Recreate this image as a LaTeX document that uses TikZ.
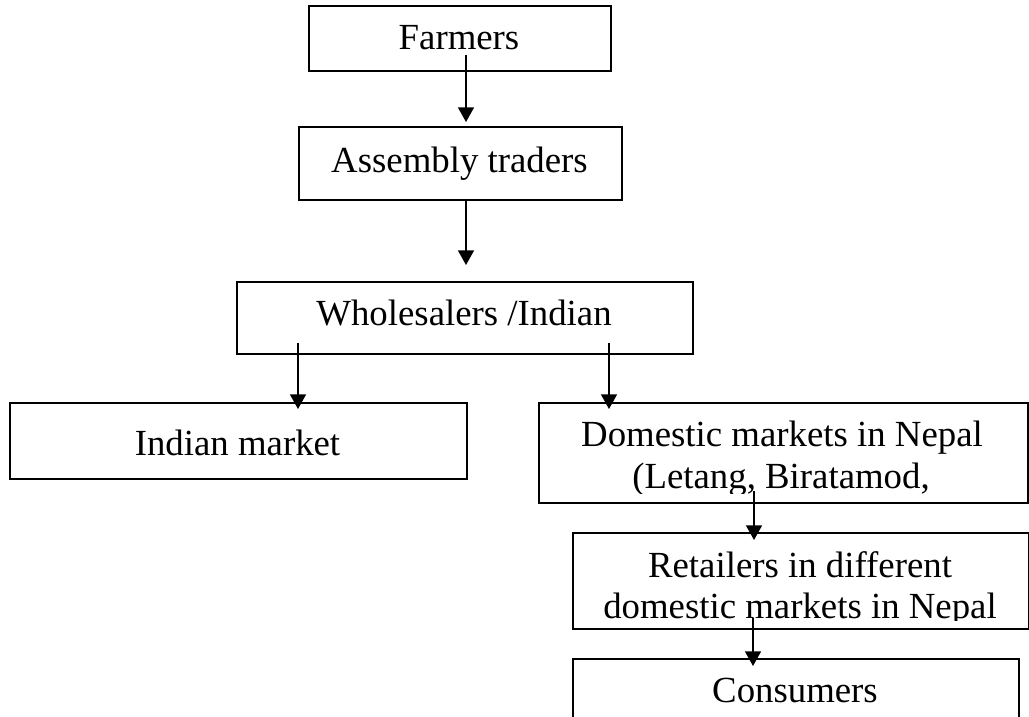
\documentclass[tikz,border=0pt]{standalone}
\usepackage{fontspec}
\setmainfont{Liberation Serif}
\usetikzlibrary{arrows.meta}
\tikzset{
  box/.style={draw=black, line width=1.4pt, rectangle, inner sep=0pt, anchor=north west, fill=none},
  txt/.style={inner sep=0pt, anchor=base, font=\fontsize{27.6pt}{32pt}\selectfont},
  arr/.style={draw=black, line width=1.2pt, -{Triangle[width=12pt,length=11pt]}}
}
\begin{document}
\begin{tikzpicture}[x=0.75pt,y=-0.75pt]
\clip (0,0) rectangle (1029,717);
\fill[white] (0,0) rectangle (1029,717);
% boxes
\node[box, minimum width=226.5pt, minimum height=48.75pt] (farmers) at (308,5) {};
\node[box, minimum width=242.25pt, minimum height=54.75pt] (assembly) at (298,126) {};
\node[box, minimum width=342pt, minimum height=54pt] (wholesale) at (236,281) {};
\node[box, minimum width=342.75pt, minimum height=57pt] (indian) at (9,402) {};
\node[box, minimum width=366.75pt, minimum height=75pt] (domestic) at (538,402) {};
\node[box, minimum width=342pt, minimum height=72pt] (retail) at (572,532) {};
\node[box, minimum width=334.5pt, minimum height=60pt] (consumers) at (572,658) {};
% texts
\node[txt] (farmersT) at (459,50) {Farmers};
\node[txt] (assemblyT) at (459.5,172) {Assembly traders};
\node[txt] (wholesaleT) at (464,325) {Wholesalers /Indian};
\node[txt] (indianT) at (237.5,455) {Indian market};
\begin{scope}
\clip (538,402) rectangle (1027,493);
\node[txt] (domesticA) at (782,446) {Domestic markets in Nepal};
\node[txt] (domesticB) at (781,488) {(Letang, Biratamod,};
\end{scope}
\begin{scope}
\clip (572,532) rectangle (1028,620.5);
\node[txt] (retailA) at (800,577) {Retailers in different};
\node[txt] (retailB) at (800,618) {domestic markets in Nepal};
\end{scope}
\node[txt] (consumersT) at (795,702) {Consumers};
% connector end points
\coordinate (a1s) at (466,55);  \coordinate (a1e) at (466,122);
\coordinate (a2s) at (466,199); \coordinate (a2e) at (466,265);
\coordinate (a3s) at (298,343); \coordinate (a3e) at (298,409);
\coordinate (a4s) at (609,343); \coordinate (a4e) at (609,409);
\coordinate (a5s) at (754,491); \coordinate (a5e) at (754,540);
\coordinate (a6s) at (753,618); \coordinate (a6e) at (753,666);
\draw[arr] (a1s) -- (a1e);
\draw[arr] (a2s) -- (a2e);
\draw[arr] (a3s) -- (a3e);
\draw[arr] (a4s) -- (a4e);
\draw[arr] (a5s) -- (a5e);
\draw[arr] (a6s) -- (a6e);
\end{tikzpicture}
\end{document}
